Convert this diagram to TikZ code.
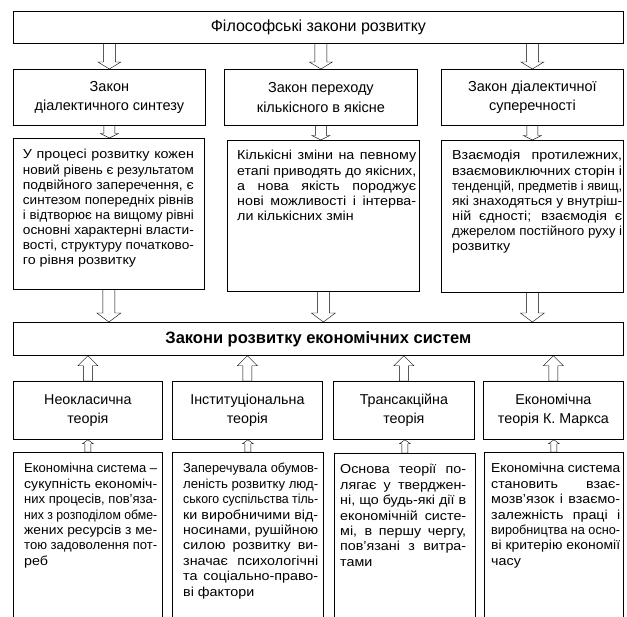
\documentclass[tikz,border=0pt]{standalone}
\usepackage{fontspec}
\setmainfont{Liberation Sans}
\newfontfamily\bodyff[FakeStretch=1.1]{Liberation Sans}
\usetikzlibrary{calc}
\newlength\LW
\newcommand\jline[1]{\hbox{\setbox0=\hbox{#1}\ifdim\wd0>\LW\resizebox{\LW}{\height}{#1}\else\makebox[\LW][s]{#1}\fi}}
\newcommand\lline[1]{\hbox{#1}}
\newcommand\titlefont{\fontsize{16}{19}\selectfont}
\newcommand\lawfont{\fontsize{14.5}{19.5}\selectfont}
\newcommand\thfont{\fontsize{14.3}{18.5}\selectfont}
\newcommand\barfont{\fontsize{16.5}{19}\selectfont\bfseries}
\newcommand\bodyfont{\bodyff\fontsize{13}{15}\selectfont}
\tikzset{
  box/.style={draw, line width=0.8pt, inner sep=0pt, anchor=north west, align=center},
  txt/.style={anchor=base west, inner sep=0pt, font=\bodyfont},
  barrow/.style n args={3}{line width=0.8pt, to path={
    let \p1=(\tikztostart), \p2=(\tikztotarget), \n1={sign(\y1-\y2)} in
    (\x1-#1,\y1) -- (\x1-#1,\y2+\n1*#3) -- (\x1-#2,\y2+\n1*#3) -- (\x1,\y2)
    -- (\x1+#2,\y2+\n1*#3) -- (\x1+#1,\y2+\n1*#3) -- (\x1+#1,\y1) -- cycle}}
}
\begin{document}
\begin{tikzpicture}[x=1pt,y=-1pt]
\useasboundingbox (0,0) rectangle (627,617);
\clip (0,0) rectangle (627,617);
% top level
\node[box, minimum width=610pt, minimum height=32pt, font=\titlefont] (title) at (13,11) {Філософські закони розвитку};
\node[box, minimum width=192pt, minimum height=56pt, font=\lawfont] (law1) at (13,69) {Закон\\діалектичного синтезу};
\node[box, minimum width=193pt, minimum height=56pt, font=\lawfont] (law2) at (224,69) {Закон переходу\\кількісного в якісне};
\node[box, minimum width=182pt, minimum height=56pt, font=\lawfont] (law3) at (441,69) {Закон діалектичної\\суперечності};
\node[box, minimum width=191pt, minimum height=151pt] (text1) at (13,138) {};
\node[box, minimum width=192pt, minimum height=151pt] (text2) at (227,140) {};
\node[box, minimum width=182pt, minimum height=152pt] (text3) at (441,140) {};
\node[txt] (text1t) at ([shift={(9.7,21)}]text1.north west) {\vtop{\LW=171pt \baselineskip=15.1pt
 \jline{У процесі розвитку кожен}
 \jline{новий рівень є результатом}
 \jline{подвійного заперечення, є}
 \jline{синтезом попередніх рівнів}
 \jline{і відтворює на вищому рівні}
 \jline{основні характерні власти-}
 \jline{вості, структуру початково-}
 \lline{го рівня розвитку}}};
\node[txt] (text2t) at ([shift={(10,20)}]text2.north west) {\vtop{\LW=179pt \baselineskip=15.1pt
 \jline{Кількісні зміни на певному}
 \jline{етапі приводять до якісних,}
 \jline{а нова якість породжує}
 \jline{нові можливості і інтерва-}
 \lline{ли кількісних змін}}};
\node[txt] (text3t) at ([shift={(11,20)}]text3.north west) {\vtop{\LW=170pt \baselineskip=15.1pt
 \jline{Взаємодія протилежних,}
 \jline{взаємовиключних сторін і}
 \jline{тенденцій, предметів і явищ,}
 \jline{які знаходяться у внутріш-}
 \jline{ній єдності; взаємодія є}
 \jline{джерелом постійного руху і}
 \lline{розвитку}}};
% central bar
\node[box, minimum width=610pt, minimum height=33pt, font=\barfont] (bar) at (13,322) {Закони розвитку економічних систем};
% theories
\node[box, minimum width=149pt, minimum height=58pt, font=\thfont] (th1) at (13,381) {Неокласична\\теорія};
\node[box, minimum width=150pt, minimum height=58pt, font=\thfont] (th2) at (172,381) {Інституціональна\\теорія};
\node[box, minimum width=141pt, minimum height=58pt, font=\thfont] (th3) at (333,381) {Трансакційна\\теорія};
\node[box, minimum width=140pt, minimum height=58pt, font=\thfont] (th4) at (483,381) {Економічна\\теорія К. Маркса};
\node[box, minimum width=149pt, minimum height=200pt] (bt1) at (13,452) {};
\node[box, minimum width=151pt, minimum height=200pt] (bt2) at (172,452) {};
\node[box, minimum width=141pt, minimum height=200pt] (bt3) at (334,453) {};
\node[box, minimum width=139pt, minimum height=200pt] (bt4) at (484,452) {};
\node[txt] (bt1t) at ([shift={(11,21)}]bt1.north west) {\vtop{\LW=133pt \baselineskip=15.4pt
 \jline{Економічна система –}
 \jline{сукупність економіч-}
 \jline{них процесів, пов’яза-}
 \jline{них з розподілом обме-}
 \jline{жених ресурсів з ме-}
 \jline{тою задоволення пот-}
 \lline{реб}}};
\node[txt] (bt2t) at ([shift={(11,21)}]bt2.north west) {\vtop{\LW=135pt \baselineskip=15.4pt
 \jline{Заперечувала обумов-}
 \jline{леність розвитку люд-}
 \jline{ського суспільства тіль-}
 \jline{ки виробничими від-}
 \jline{носинами, рушійною}
 \jline{силою розвитку ви-}
 \jline{значає психологічні}
 \jline{та соціально-право-}
 \lline{ві фактори}}};
\node[txt] (bt3t) at ([shift={(6,21)}]bt3.north west) {\vtop{\LW=126pt \baselineskip=15.4pt
 \jline{Основа теорії по-}
 \jline{лягає у тверджен-}
 \jline{ні, що будь-які дії в}
 \jline{економічній систе-}
 \jline{мі, в першу чергу,}
 \jline{пов’язані з витра-}
 \lline{тами}}};
\node[txt] (bt4t) at ([shift={(7,21)}]bt4.north west) {\vtop{\LW=129pt \baselineskip=15.4pt
 \jline{Економічна система}
 \jline{становить взає-}
 \jline{мозв’язок і взаємо-}
 \jline{залежність праці і}
 \jline{виробництва на осно-}
 \jline{ві критерію економії}
 \lline{часу}}};
% arrows
\foreach \k in {1,2,3}{
  \draw (title.south -| law\k.north) to[barrow={6}{11.5}{7}] (law\k.north);
  \draw (law\k.south) to[barrow={5.5}{9}{4.5}] (text\k.north -| law\k.south);
  \draw (text\k.south) to[barrow={6}{12}{9}] (bar.north -| text\k.south);
}
\foreach \k in {1,2,3,4}{
  \draw (th\k.north) to[barrow={4.5}{10}{10}] (bar.south -| th\k.north);
  \draw (bt\k.north) to[barrow={3}{5.5}{4}] (th\k.south -| bt\k.north);
}
\end{tikzpicture}
\end{document}
